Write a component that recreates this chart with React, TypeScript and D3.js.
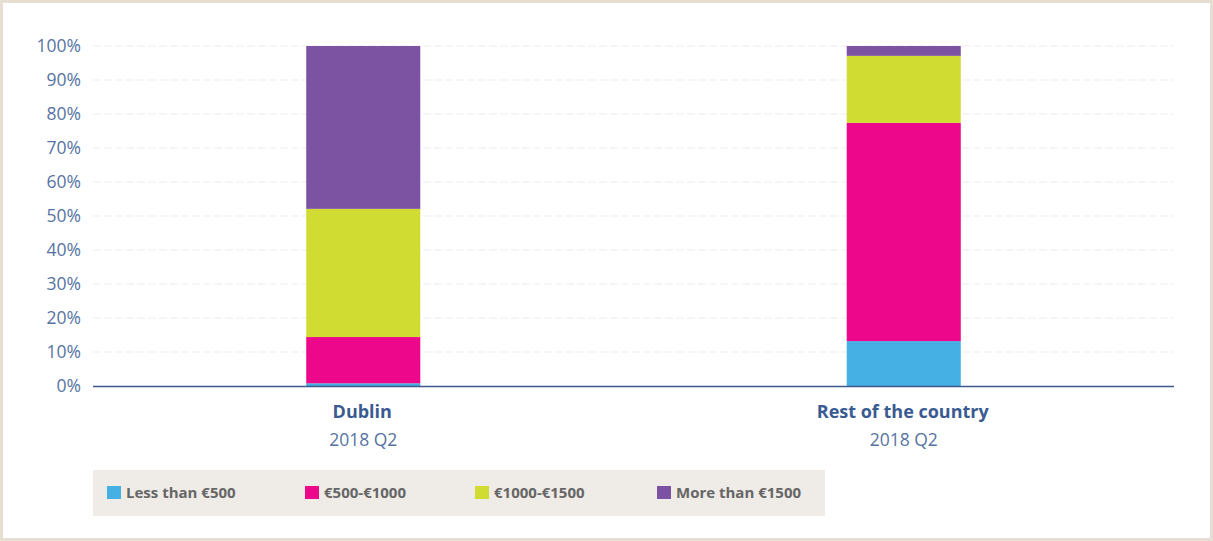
import React from "react";
import * as d3 from "d3";

const categories = ["Dublin", "Rest of the country"];
const subLabels = ["2018 Q2", "2018 Q2"];
const seriesNames = ["Less than €500", "€500-€1000", "€1000-€1500", "More than €1500"];
const seriesColors = ["#45b0e3", "#ec078b", "#d1dc33", "#7b53a2"];
const lessThan500 = [0.8, 13.2];
const from500to1000 = [13.6, 64.2];
const from1000to1500 = [37.7, 19.7];
const moreThan1500 = [47.9, 2.9];
const yTicks = [0, 10, 20, 30, 40, 50, 60, 70, 80, 90, 100];

const W = 1213;
const H = 541;
const plot = { left: 93, right: 1174, top: 46, bottom: 386 };

export default function App() {
  const values = [lessThan500, from500to1000, from1000to1500, moreThan1500];
  const rows = categories.map((c, i) => {
    const r: any = { cat: c };
    seriesNames.forEach((s, j) => (r[s] = values[j][i]));
    return r;
  });
  const stacked = d3.stack().keys(seriesNames)(rows);
  const x = d3.scaleBand().domain(categories).range([plot.left, plot.right]).padding(0);
  const y = d3.scaleLinear().domain([0, 100]).range([plot.bottom, plot.top]);
  const barW = x.bandwidth() * 0.211;
  const font = "'Open Sans', 'Noto Sans', sans-serif";
  const legendX = [107, 305, 475, 657];

  return (
    <svg width={W} height={H} style={{ position: "absolute", left: 0, top: 0, background: "#fff" }}>
      <rect x={1.5} y={1.5} width={W - 3} height={H - 3} fill="#fff" stroke="#e6ddd3" strokeWidth={3} />
      {yTicks.map((t) => (
        <g key={t}>
          {t > 0 && (
            <line x1={plot.left} x2={plot.right} y1={y(t)} y2={y(t)} stroke="#efeceb" strokeWidth={1} strokeDasharray="8,3" />
          )}
          <text x={81} y={y(t)} dy="0.35em" textAnchor="end" fontFamily={font} fontSize={17.5} fill="#5773a3">
            {t}%
          </text>
        </g>
      ))}
      {stacked.map((s, j) => (
        <g key={s.key} fill={seriesColors[j]}>
          {s.map((d: any, i: number) => (
            <rect
              key={i}
              x={(x(categories[i]) as number) + x.bandwidth() / 2 - barW / 2}
              width={barW}
              y={y(d[1])}
              height={y(d[0]) - y(d[1])}
            />
          ))}
        </g>
      ))}
      <line x1={plot.left} x2={plot.right} y1={y(0) + 0.5} y2={y(0) + 0.5} stroke="#3d5a8c" strokeWidth={1.5} />
      {categories.map((c, i) => (
        <g key={c}>
          <text x={(x(c) as number) + x.bandwidth() / 2 - 1} y={418} textAnchor="middle" fontFamily={font} fontWeight="bold" fontSize={18} fill="#3a5a92">
            {c}
          </text>
          <text x={(x(c) as number) + x.bandwidth() / 2} y={446} textAnchor="middle" fontFamily={font} fontSize={17.5} fill="#5773a3">
            {subLabels[i]}
          </text>
        </g>
      ))}
      <rect x={93} y={470} width={732} height={46} fill="#efebe7" />
      {seriesNames.map((s, j) => (
        <g key={s}>
          <rect x={legendX[j]} y={486} width={14} height={13} fill={seriesColors[j]} />
          <text x={legendX[j] + 19} y={493} dy="0.35em" fontFamily={font} fontWeight="bold" fontSize={15} fill="#666">
            {s}
          </text>
        </g>
      ))}
    </svg>
  );
}
